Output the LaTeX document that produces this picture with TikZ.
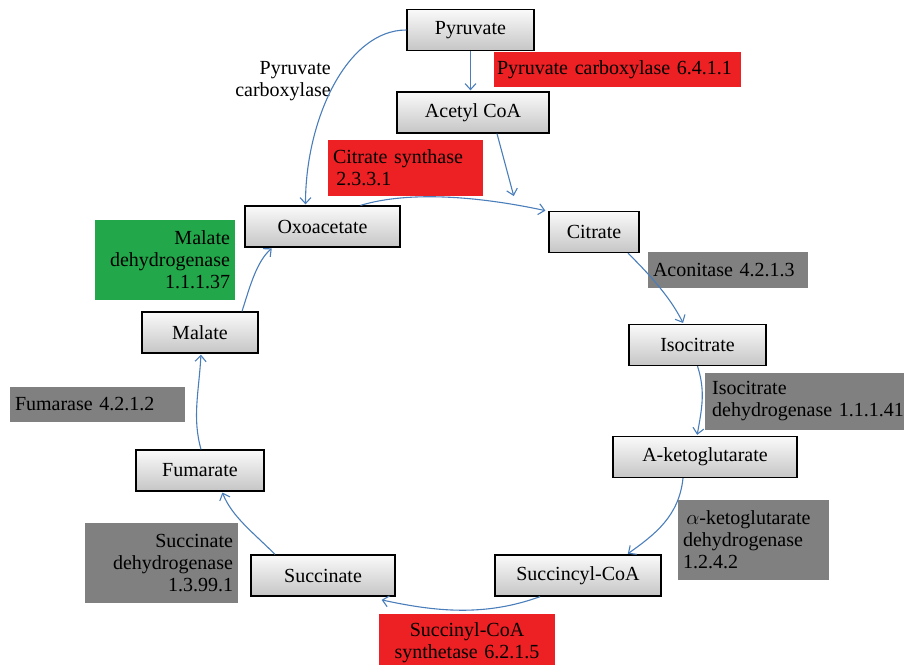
\documentclass[tikz,border=0pt]{standalone}
\usepackage{fontspec}
\setmainfont{Liberation Serif}
\usetikzlibrary{arrows.meta}
\definecolor{arrowblue}{RGB}{74,126,187}
\definecolor{enzred}{RGB}{237,32,36}
\definecolor{enzgreen}{RGB}{34,168,74}
\definecolor{enzgray}{RGB}{128,128,128}
\begin{document}
\begin{tikzpicture}[x=1pt,y=-1pt,font=\fontsize{20}{22}\selectfont,
  met/.style={draw=black,line width=1.3pt,top color=gray!4,bottom color=gray!45,minimum height=41,inner sep=0},
  enz/.style={inner xsep=5,inner ysep=0,text width=#1},
  arr/.style={draw=arrowblue,line width=1.1pt,-{Straight Barb[length=6pt,width=11pt]},shorten >=1pt}]
\useasboundingbox (0,0) rectangle (904,664);
\node[met,minimum width=127] (pyr) at (470.5,30) {Pyruvate};
\node[met,minimum width=152] (acetyl) at (473,112.5) {Acetyl CoA};
\node[met,minimum width=155] (oxo) at (322.5,226.5) {Oxoacetate};
\node[met,minimum width=90] (cit) at (594,232) {Citrate};
\node[met,minimum width=137] (iso) at (697.5,345) {Isocitrate};
\node[met,minimum width=184] (akg) at (705,457) {A-ketoglutarate};
\node[met,minimum width=166] (sco) at (578,575.5) {Succincyl-CoA};
\node[met,minimum width=144] (suc) at (323,575.5) {Succinate};
\node[met,minimum width=128] (fum) at (200,470.5) {Fumarate};
\node[met,minimum width=116] (mal) at (200,332.5) {Malate};
\node[enz=241,fill=enzred,minimum height=35,align=left,inner xsep=3] (pc) at (617.5,69.5) {Pyruvate carboxylase 6.4.1.1};
\node[align=right,anchor=east,inner sep=0] (pctext) at (331,81) {Pyruvate\\carboxylase};
\node[enz=145,fill=enzred,minimum height=56,align=left] (cs) at (405.5,168) {Citrate synthase\\ \,2.3.3.1};
\node[enz=130,fill=enzgreen,minimum height=80,align=right] (mdh) at (165,260) {Malate\\dehydrogenase\\1.1.1.37};
\node[enz=150,fill=enzgray,minimum height=36,align=left] (aco) at (728,270) {Aconitase 4.2.1.3};
\node[enz=215,fill=enzgray,minimum height=57,align=left,anchor=west,inner xsep=7] (idh) at (705,401.5) {Isocitrate\\dehydrogenase 1.1.1.41};
\node[enz=141,fill=enzgray,minimum height=80,align=left] (akgdh) at (753.5,540) {\,$\alpha$-ketoglutarate\\dehydrogenase\\1.2.4.2};
\node[enz=165,fill=enzgray,minimum height=35,align=left] (fumase) at (97.5,404.5) {Fumarase 4.2.1.2};
\node[enz=143,fill=enzgray,minimum height=80,align=right] (sdh) at (161.5,563) {Succinate\\dehydrogenase\\1.3.99.1};
\node[enz=166,fill=enzred,minimum height=58,align=center] (scs) at (467,643) {Succinyl-CoA\\synthetase 6.2.1.5};
\coordinate (join) at (514,197);
\draw[arr] (pyr.south) -- ([xshift=-2.5pt]acetyl.north);
\draw[arr] (pyr.west) .. controls +(-60,0) and +(0,-85) .. ([xshift=-17pt]oxo.north);
\draw[arr] ([xshift=24pt]acetyl.south) -- (join);
\draw[arr] ([xshift=38pt]oxo.north) .. controls +(50,-15) and +(-65,-14) .. ([xshift=-2pt]cit.north west);
\draw[arr] ([xshift=34pt]cit.south) .. controls +(20,20) and +(-14,-28) .. ([xshift=-14pt]iso.north);
\draw[arr] (iso.south) .. controls +(8,25) and +(5,-28) .. ([xshift=-8pt]akg.north);
\draw[arr] ([xshift=-22pt]akg.south) .. controls +(-4,38) and +(28,-20) .. ([xshift=49pt]sco.north);
\draw[arr] ([xshift=-38pt]sco.south) .. controls +(-55,20) and +(55,12) .. ([xshift=-15pt,yshift=-3pt]suc.south east);
\draw[arr] ([xshift=-48pt]suc.north) .. controls +(-22,-22) and +(10,25) .. ([xshift=22pt]fum.south);
\draw[arr] ([xshift=1pt]fum.north) .. controls +(-9,-32) and +(-2,38) .. ([xshift=1pt]mal.south);
\draw[arr] ([xshift=42pt]mal.north) .. controls +(8,-25) and +(-16,14) .. ([xshift=-50pt]oxo.south);
\end{tikzpicture}
\end{document}
